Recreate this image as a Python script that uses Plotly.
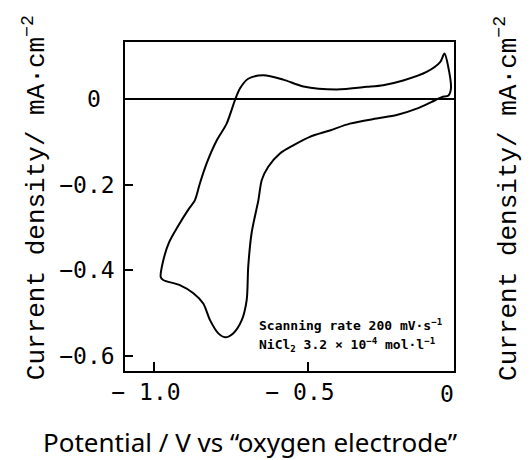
import plotly.graph_objects as go

# Cyclic voltammogram: potential (V vs oxygen electrode) and current density (mA/cm^2)
potential = [
    -0.066, -0.098, -0.147, -0.212, -0.277, -0.364, -0.429, -0.494, -0.548, -0.591,
    -0.629, -0.650, -0.661, -0.683, -0.694, -0.699, -0.715, -0.743, -0.769, -0.791,
    -0.818, -0.840, -0.872, -0.916, -0.970, -0.978, -0.971, -0.951, -0.922, -0.890,
    -0.867, -0.851, -0.829, -0.796, -0.764, -0.737, -0.721, -0.694, -0.645, -0.580,
    -0.515, -0.407, -0.309, -0.256, -0.191, -0.115, -0.071, -0.057, -0.045, -0.036,
    -0.044, -0.066,
]
current = [
    0.005, -0.006, -0.022, -0.037, -0.045, -0.057, -0.073, -0.088, -0.108, -0.127,
    -0.158, -0.189, -0.236, -0.313, -0.392, -0.470, -0.517, -0.548, -0.557, -0.548,
    -0.517, -0.478, -0.454, -0.435, -0.423, -0.416, -0.381, -0.335, -0.297, -0.260,
    -0.236, -0.197, -0.150, -0.096, -0.057, -0.002, 0.025, 0.048, 0.056, 0.046,
    0.030, 0.023, 0.029, 0.033, 0.044, 0.064, 0.087, 0.107, 0.077, 0.025,
    0.009, 0.005,
]

x_ticks = [-1.0, -0.5]
x_tick_text = ["\u2212 1.0", "\u2212 0.5"]
y_ticks = [-0.6, -0.4, -0.2]
y_tick_text = ["\u22120.6", "\u22120.4", "\u22120.2"]

mono = "DejaVu Sans Mono"
thin_mono = "Liberation Mono"
y_title = "Current density/ mA\u00b7cm<sup>\u22122</sup>"

fig = go.Figure()
fig.add_trace(go.Scatter(
    x=potential, y=current, mode="lines",
    line=dict(color="black", width=2, shape="spline", smoothing=0.8),
    hoverinfo="skip", showlegend=False,
))

fig.update_layout(
    width=532, height=460,
    margin=dict(l=125, r=78, t=42, b=89),
    paper_bgcolor="white", plot_bgcolor="white",
    xaxis=dict(
        range=[-1.094, -0.026], tickvals=x_ticks, ticktext=x_tick_text,
        ticks="inside", ticklen=9, tickwidth=1.5, tickcolor="black",
        showline=True, linecolor="black", linewidth=1.5, mirror=True,
        showgrid=False, zeroline=False, ticklabelshift=-8,
        tickfont=dict(family=mono, size=23, color="black"),
    ),
    yaxis=dict(
        range=[-0.636, 0.134], tickvals=y_ticks, ticktext=y_tick_text,
        ticks="inside", ticklen=8, tickwidth=1.5, tickcolor="black",
        showline=True, linecolor="black", linewidth=1.5, mirror=True,
        showgrid=False, zeroline=True, zerolinecolor="black", zerolinewidth=1.5,
        ticklabelstandoff=4,
        tickfont=dict(family=mono, size=23, color="black"),
    ),
)

# tick label "0" on both axes
fig.add_annotation(text="0", xref="paper", yref="y", x=0, y=0, xanchor="right",
                   yanchor="middle", xshift=-22, showarrow=False,
                   font=dict(family=mono, size=23, color="black"))
fig.add_annotation(text="0", xref="x", yref="paper", x=-0.049, y=0, xanchor="center",
                   yanchor="top", yshift=-8, showarrow=False,
                   font=dict(family=mono, size=23, color="black"))

# axis titles
fig.add_annotation(text=y_title, xref="paper", yref="paper", x=-0.275, y=0.527,
                   textangle=-90, xanchor="center", yanchor="middle", showarrow=False,
                   font=dict(family=thin_mono, size=26, color="black"))
fig.add_annotation(text=y_title, xref="paper", yref="paper", x=1.161, y=0.526,
                   textangle=-90, xanchor="center", yanchor="middle", showarrow=False,
                   font=dict(family=thin_mono, size=26, color="black"))
fig.add_annotation(text="Potential / V vs \u201coxygen electrode\u201d", xref="paper",
                   yref="paper", x=0.38, y=-0.215, xanchor="center", yanchor="middle",
                   showarrow=False, font=dict(family="Noto Sans", size=26, color="black"))

# experimental conditions
fig.add_annotation(text="<b>Scanning rate 200 mV\u00b7s<sup>\u22121</sup></b>", xref="x", yref="y",
                   x=-0.666, y=-0.529, xanchor="left", yanchor="middle", showarrow=False,
                   font=dict(family=mono, size=13, color="black"))
fig.add_annotation(text="<b>NiCl<sub>2</sub> 3.2 \u00d7 10<sup>\u22124</sup> mol\u00b7l<sup>\u22121</sup></b>",
                   xref="x", yref="y", x=-0.666, y=-0.575, xanchor="left", yanchor="middle",
                   showarrow=False, font=dict(family=mono, size=13, color="black"))

fig.write_html("out.html")
